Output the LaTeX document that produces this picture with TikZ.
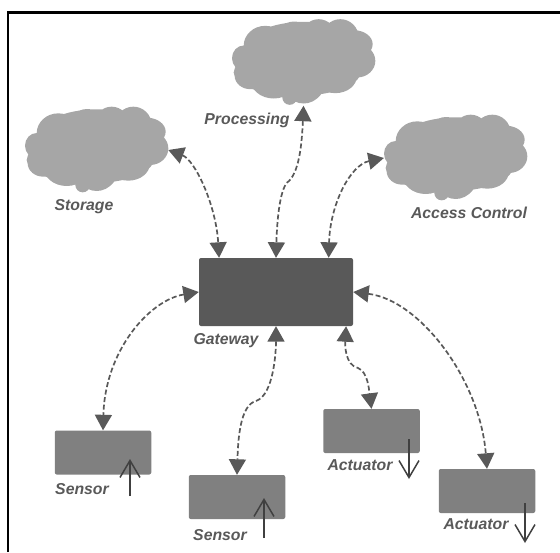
\documentclass[tikz,border=0pt]{standalone}
\usepackage{fontspec}
\setmainfont{Liberation Sans}
\usetikzlibrary{arrows.meta}
\definecolor{gwfill}{HTML}{595959}
\definecolor{boxfill}{HTML}{808080}
\definecolor{cloudfill}{HTML}{A6A6A6}
\definecolor{linkcol}{HTML}{595959}
\definecolor{barcol}{HTML}{404040}
\newcommand{\cloudshape}[2]{%
  \begin{scope}[shift={(#1,#2)},scale=0.33333]
    \fill[cloudfill]
      (110,437) ellipse [x radius=35pt,y radius=38pt]
      (175,400) ellipse [x radius=65pt,y radius=60pt]
      (262,385) ellipse [x radius=60pt,y radius=58pt]
      (335,380) ellipse [x radius=55pt,y radius=60pt]
      (400,375) ellipse [x radius=55pt,y radius=55pt]
      (440,395) ellipse [x radius=57pt,y radius=42pt]
      (450,445) ellipse [x radius=55pt,y radius=50pt]
      (385,490) ellipse [x radius=65pt,y radius=52pt]
      (290,490) ellipse [x radius=70pt,y radius=83pt]
      (248,555) ellipse [x radius=22pt,y radius=22pt]
      (200,500) ellipse [x radius=70pt,y radius=58pt]
      (130,490) ellipse [x radius=47pt,y radius=40pt]
      (270,440) ellipse [x radius=170pt,y radius=90pt]
      (290,410) ellipse [x radius=175pt,y radius=82pt]
      (270,480) ellipse [x radius=190pt,y radius=70pt];
  \end{scope}}
\tikzset{
  x=1pt,y=-1pt,
  frameline/.style={black,line width=2.2pt},
  cloudbox/.style={inner sep=0pt,minimum width=143pt,minimum height=86pt},
  gwbox/.style={fill=gwfill,rounded corners=2pt,inner sep=0pt,minimum width=154pt,minimum height=68pt},
  devbox/.style={fill=boxfill,rounded corners=2pt,inner sep=0pt,minimum width=96.5pt,minimum height=44pt},
  lbl/.style={font=\fontsize{15.8}{18}\selectfont\bfseries\itshape,text=linkcol,inner sep=0pt},
  link/.style={draw=linkcol,line width=1.7pt,dash pattern=on 5pt off 2.6pt,
    {Triangle[length=15.5pt,width=17pt,fill=linkcol]}-{Triangle[length=15.5pt,width=17pt,fill=linkcol]}},
  sig/.style={draw=barcol,line width=1.5pt,-{Straight Barb[length=17pt,width=20pt,line width=1.5pt]}}
}
\begin{document}
\begin{tikzpicture}
\useasboundingbox (0,0) rectangle (560,552);
\draw[frameline] (8,552) -- (8,12.5) -- (560,12.5);

\cloudshape{0}{0}
\cloudshape{207}{-87.5}
\cloudshape{359}{8}
\node[cloudbox] (storage) at (96.6,150) {};
\node[cloudbox] (processing) at (303.6,62.5) {};
\node[cloudbox] (access) at (455.6,158) {};

\node[gwbox] (gw) at (276,292) {};
\node[devbox] (s1) at (103,452.5) {};
\node[devbox] (s2) at (237,497) {};
\node[devbox] (a1) at (371.5,431) {};
\node[devbox] (a2) at (487,491) {};

\node[lbl] (lstorage) at (84,207) {Storage};
\node[lbl] (lprocessing) at (247,120) {Processing};
\node[lbl] (laccess) at (469,213) {Access Control};
\node[lbl] (lgw) at (226,341) {Gateway};
\node[lbl] (ls1) at (82,489) {Sensor};
\node[lbl] (ls2) at (220,535) {Sensor};
\node[lbl] (la1) at (360,465) {Actuator};
\node[lbl] (la2) at (476,524) {Actuator};

\coordinate (mp) at (289,181);
\coordinate (ms) at (256,401);
\coordinate (ma) at (358,368);

\draw[link] (storage.east) .. controls (195,160) and (216,205) .. (gw.149);
\draw[link] (processing.south) .. controls (302,140) and (300,170) .. (mp)
  .. controls (280,186) and (277,220) .. (gw.north);
\draw[link] (access.west) .. controls (350,165) and (330,205) .. (gw.33.7);
\draw[link] (gw.west) .. controls (150,300) and (105,350) .. (s1.north);
\draw[link] (gw.south) .. controls (276,350) and (274,395) .. (ms)
  .. controls (240,405) and (238,440) .. (s2.north);
\draw[link] (gw.-26.2) .. controls (345,345) and (345,365) .. (ma)
  .. controls (368,372) and (369,390) .. (a1.north);
\draw[link] (gw.east) .. controls (420,300) and (480,380) .. (a2.north);

\coordinate (s1a) at (130,496); \coordinate (s1b) at (130,459);
\coordinate (s2a) at (264,538); \coordinate (s2b) at (264,498);
\coordinate (a1a) at (409,439); \coordinate (a1b) at (409,479);
\coordinate (a2a) at (525,503); \coordinate (a2b) at (525,543);
\draw[sig] (s1a) -- (s1b);
\draw[sig] (s2a) -- (s2b);
\draw[sig] (a1a) -- (a1b);
\draw[sig] (a2a) -- (a2b);
\end{tikzpicture}
\end{document}
